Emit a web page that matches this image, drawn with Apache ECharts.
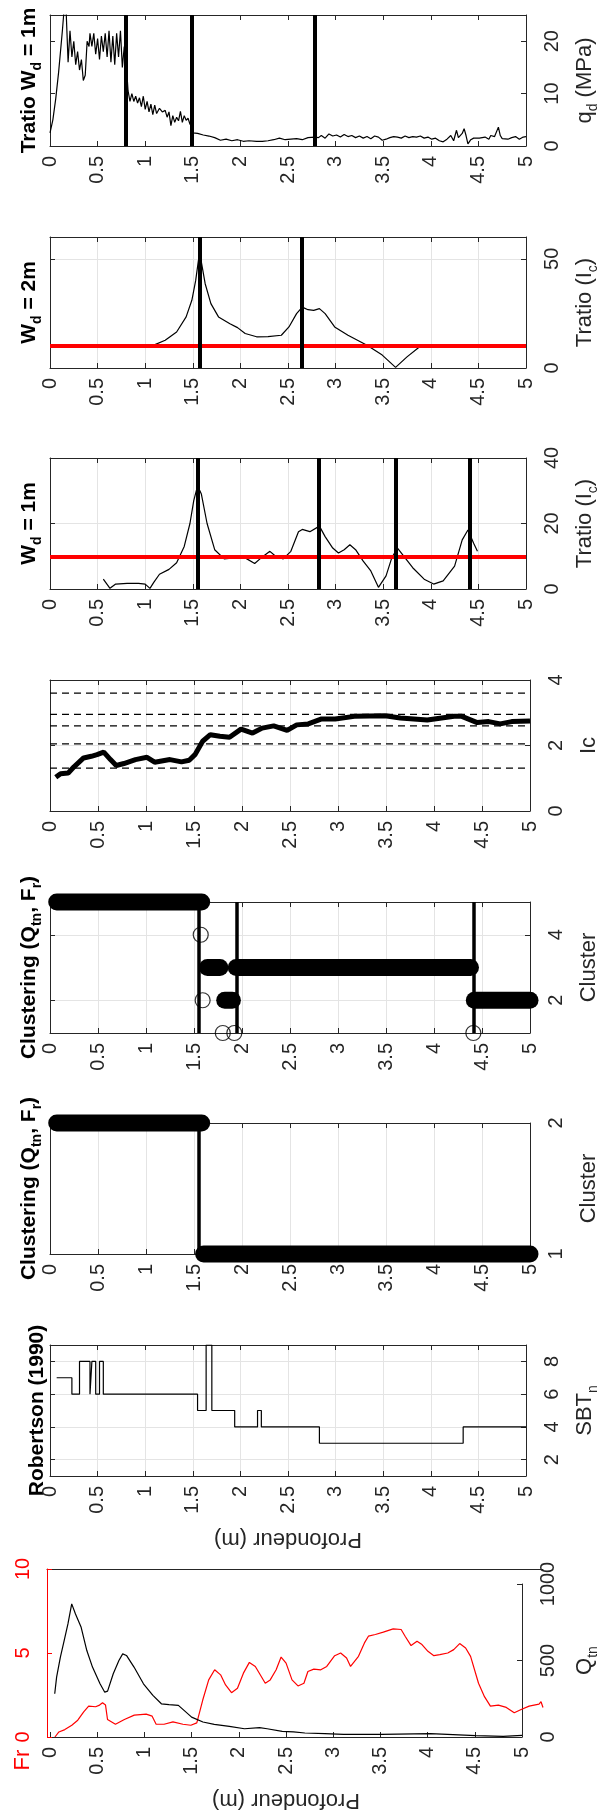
<!DOCTYPE html>
<html>
<head>
<meta charset="utf-8">
<script src="https://cdn.jsdelivr.net/npm/echarts@6/dist/echarts.min.js"></script>
<style>
  html, body { margin: 0; padding: 0; background: #fff; }
  #chart { width: 608px; height: 1816px; }
</style>
</head>
<body>
<div id="chart"></div>
<script>
// ---- data: [depth (m), value] ----
const qd = [[0.00,2.5],[0.03,5],[0.06,9],[0.09,14],[0.11,18],[0.13,22],[0.15,26.5],[0.17,25.5],[0.19,16],[0.21,22],
  [0.23,17],[0.25,20],[0.27,15.5],[0.29,18],[0.31,14.5],[0.33,16.5],[0.35,12.5],[0.37,13.5],[0.39,20],[0.41,19],
  [0.42,21.5],[0.44,19],[0.46,21.5],[0.48,17.5],[0.50,20.5],[0.52,16.5],[0.54,21],[0.56,18],[0.58,21.5],[0.60,17],
  [0.62,22],[0.64,16],[0.66,21],[0.68,15.5],[0.70,21.5],[0.72,17],[0.74,22],[0.76,15],[0.78,19],[0.80,16],
  [0.82,10.5],[0.84,8.5],[0.86,10],[0.88,8.5],[0.90,9.5],[0.92,8.2],[0.94,9.2],[0.96,7.5],[0.98,9.5],[1.00,7],
  [1.02,8.5],[1.04,6.5],[1.06,8],[1.08,6],[1.10,7.8],[1.12,6.2],[1.15,7.2],[1.18,6.5],[1.21,6.8],[1.23,5.5],
  [1.25,6.5],[1.27,3.9],[1.29,5.8],[1.31,4.5],[1.33,5.5],[1.35,4.8],[1.37,6.6],[1.39,4.5],[1.41,5.8],[1.43,4.9],
  [1.45,5.3],[1.47,4.2],[1.49,3.8],[1.50,2.5],[1.55,2.4],[1.61,2.1],[1.67,1.9],[1.73,1.6],[1.79,1.1],[1.85,1.3],
  [1.91,1.0],[1.97,1.2],[2.03,0.9],[2.09,1.0],[2.17,0.9],[2.23,0.9],[2.29,1.0],[2.35,1.2],[2.41,1.5],[2.47,1.2],
  [2.53,1.3],[2.59,1.4],[2.65,1.2],[2.71,1.6],[2.78,1.7],[2.82,1.6],[2.85,2.0],[2.89,1.5],[2.93,2.3],[2.97,1.9],
  [3.01,2.1],[3.05,1.7],[3.09,2.2],[3.13,1.8],[3.17,2.0],[3.21,1.6],[3.25,1.9],[3.29,1.5],[3.33,1.8],[3.37,1.4],
  [3.41,1.9],[3.45,1.7],[3.49,1.1],[3.53,1.3],[3.57,1.6],[3.61,1.8],[3.65,1.7],[3.69,1.5],[3.73,1.9],[3.77,1.6],
  [3.81,1.8],[3.85,1.7],[3.89,1.9],[3.93,1.5],[3.97,1.7],[4.01,1.3],[4.05,1.5],[4.09,1.0],[4.13,0.8],[4.17,1.3],
  [4.21,2.0],[4.24,1.0],[4.27,3.0],[4.29,1.6],[4.31,1.4],[4.33,2.4],[4.35,3.3],[4.37,2.0],[4.39,0.4],[4.42,1.2],
  [4.45,1.5],[4.51,1.5],[4.57,1.7],[4.61,1.3],[4.63,2.0],[4.67,1.8],[4.71,3.6],[4.73,2.0],[4.75,1.4],[4.81,1.3],
  [4.85,1.6],[4.89,1.8],[4.93,1.3],[4.97,1.7],[5.00,1.8]];
const qdBreaks = [0.8, 1.49, 2.78];

const tratio2m = [[1.09,10.5],[1.21,12.7],[1.33,16.5],[1.43,23.4],[1.49,31],[1.53,40],[1.56,49.5],[1.59,48.5],
  [1.63,38.6],[1.69,29.5],[1.77,23.4],[1.89,20.3],[1.97,18.5],[2.05,15.8],[2.17,14.3],[2.29,14.4],[2.43,15],
  [2.51,18.8],[2.59,24.9],[2.65,27.9],[2.71,26.7],[2.77,26.4],[2.83,27.2],[2.89,24.9],[2.99,18.8],[3.13,15],
  [3.33,10.4],[3.49,5.9],[3.63,0.3],[3.75,5.1],[3.87,9.3],[3.89,9.6]];
const tratio2mBreaks = [1.57, 2.64];

const tratio1m = [[0.56,3],[0.63,0.2],[0.69,1.5],[0.81,1.7],[0.93,1.7],[1.00,1.5],[1.05,0.2],[1.09,2],[1.15,4.5],
  [1.25,6],[1.33,8],[1.41,13],[1.47,20],[1.51,27],[1.55,31.5],[1.59,29],[1.65,20],[1.73,12],[1.83,9.2],[1.93,9.5],
  [2.05,9.5],[2.15,7.8],[2.23,9.8],[2.31,11.5],[2.37,10],[2.45,9.2],[2.53,11.5],[2.61,17.5],[2.65,18.2],[2.73,17.5],
  [2.83,19.2],[2.89,16],[2.97,12.5],[3.03,11],[3.09,12],[3.15,13.5],[3.21,12],[3.29,8.5],[3.37,5.5],[3.45,0.5],
  [3.53,4],[3.59,9.5],[3.65,12.5],[3.73,9.5],[3.81,6.5],[3.93,3],[4.03,1.5],[4.13,2.5],[4.25,7],[4.33,15],
  [4.39,18],[4.45,14],[4.49,11.5]];
const tratio1mBreaks = [1.55, 2.82, 3.63, 4.41];
const tratioThreshold = 10;

const ic = [[0.06,1.03],[0.11,1.14],[0.19,1.16],[0.25,1.35],[0.35,1.62],[0.43,1.67],[0.49,1.72],[0.56,1.80],
  [0.63,1.57],[0.69,1.39],[0.77,1.45],[0.89,1.57],[1.01,1.64],[1.09,1.49],[1.25,1.57],[1.37,1.50],[1.45,1.55],
  [1.51,1.72],[1.59,2.13],[1.67,2.33],[1.77,2.28],[1.87,2.25],[1.99,2.50],[2.11,2.38],[2.21,2.53],[2.33,2.60],
  [2.47,2.46],[2.57,2.63],[2.69,2.66],[2.83,2.81],[2.97,2.81],[3.17,2.89],[3.49,2.91],[3.65,2.84],[3.93,2.78],
  [4.21,2.89],[4.29,2.89],[4.45,2.70],[4.57,2.73],[4.69,2.66],[4.81,2.73],[5.00,2.75]];
const icBounds = [1.31, 2.05, 2.60, 2.95, 3.60];

// cluster runs: [from depth, to depth, cluster]
const cluster5Runs = [[0.07,1.58,5],[1.64,1.77,3],[1.82,1.90,2],[1.94,4.38,3],[4.42,5.0,2]];
const cluster5Single = [[1.57,4],[1.59,2],[1.80,1],[1.92,1],[4.41,1]];
const cluster5Breaks = [1.55, 1.95, 4.41];
const cluster2Runs = [[0.07,1.58,2],[1.60,5.0,1]];
const cluster2Breaks = [1.55];

// SBTn: value holds from each depth until the next one
const sbtn = [[0.07,7],[0.23,6],[0.31,8],[0.42,6],[0.44,8],[0.48,6],[0.52,8],[0.56,6],[1.55,5],[1.64,9],
  [1.70,5],[1.94,4],[2.18,5],[2.22,4],[2.83,3],[4.34,4],[5.0,4]];

const fr = [[0.08,0],[0.12,0.3],[0.18,0.44],[0.25,0.7],[0.31,1.0],[0.37,1.5],[0.42,1.84],[0.49,1.8],[0.53,1.9],
  [0.56,2.04],[0.59,1.9],[0.61,1.04],[0.69,0.76],[0.78,1.04],[0.88,1.3],[1.00,1.36],[1.06,1.24],[1.10,0.76],
  [1.18,0.76],[1.27,0.9],[1.37,0.76],[1.45,0.7],[1.51,0.84],[1.57,2.2],[1.63,3.4],[1.69,4.0],[1.75,3.7],[1.80,3.1],
  [1.86,2.64],[1.92,2.9],[1.98,3.8],[2.04,4.44],[2.10,4.2],[2.16,3.6],[2.20,3.2],[2.25,3.4],[2.31,4.0],[2.36,4.76],
  [2.41,4.4],[2.47,3.4],[2.53,3.04],[2.59,3.2],[2.63,3.9],[2.69,4.04],[2.76,4.0],[2.82,4.2],[2.90,4.84],[2.96,5.0],
  [3.02,4.7],[3.06,4.2],[3.14,4.8],[3.20,5.6],[3.24,6.0],[3.31,6.1],[3.39,6.24],[3.49,6.44],[3.57,6.4],[3.61,6.0],
  [3.67,5.44],[3.73,5.7],[3.78,5.5],[3.84,5.1],[3.90,4.84],[3.96,4.9],[4.04,5.0],[4.10,5.2],[4.16,5.56],[4.22,5.3],
  [4.27,4.8],[4.35,3.2],[4.41,2.4],[4.47,1.84],[4.55,1.9],[4.63,1.76],[4.71,1.44],[4.78,1.64],[4.86,1.84],
  [4.96,1.96],[4.98,2.1],[5.00,1.76]];
const qtn = [[0.05,283],[0.07,391],[0.11,522],[0.15,630],[0.19,739],[0.23,870],[0.27,804],[0.33,717],[0.39,565],
  [0.45,457],[0.53,348],[0.58,293],[0.61,300],[0.67,413],[0.73,500],[0.77,543],[0.81,533],[0.89,457],[0.99,348],
  [1.09,272],[1.18,217],[1.26,211],[1.36,207],[1.42,174],[1.50,130],[1.62,98],[1.74,83],[1.90,70],[2.06,54],
  [2.22,61],[2.30,54],[2.46,37],[2.58,33],[2.70,26],[2.91,22],[3.11,17],[3.51,17],[4.03,22],[4.51,9],[4.80,4],[5.00,11]];

// ---- layout / styling ----
const FONT = '"Liberation Sans", Arial, sans-serif';
const AXC = '#262626';
const GRIDC = '#e4e4e4';
const RED = '#ff0000';
const PANEL_LEFT = 50, PANEL_W = 484, PANEL_H = 131;
const plain = v => String(v);

const option = {
  animation: false,
  backgroundColor: '#fff',
  textStyle: { fontFamily: FONT },
  grid: [], xAxis: [], yAxis: [], series: [], graphic: []
};

const subRich = (size, bold) => ({
  a: { fontSize: size, lineHeight: 30, fontWeight: bold ? 'bold' : 'normal', color: bold ? '#000' : AXC, fontFamily: FONT },
  s: { fontSize: Math.round(size * 0.65), lineHeight: 14, verticalAlign: 'bottom', fontWeight: bold ? 'bold' : 'normal', color: bold ? '#000' : AXC, fontFamily: FONT }
});

function addPanel(cfg) {
  const g = option.grid.length;
  option.grid.push({ left: cfg.left || PANEL_LEFT, top: cfg.top, width: cfg.width || PANEL_W, height: cfg.height || PANEL_H });
  const line = { show: true, onZero: false, lineStyle: { color: AXC, width: 1 } };
  const tick = { show: true, inside: true, length: 5, lineStyle: { color: AXC } };
  const xi = option.xAxis.length;
  option.xAxis.push({
    gridIndex: g, type: 'value', position: 'bottom', min: 0, max: 5, interval: 0.5,
    axisLine: line, axisTick: tick,
    axisLabel: { rotate: 90, margin: 10, fontSize: 20, color: AXC, formatter: plain },
    splitLine: { show: !!cfg.gridLines, lineStyle: { color: GRIDC } },
    name: cfg.xName || '', nameLocation: 'middle', nameRotate: 180, nameGap: 52,
    nameTextStyle: { fontSize: 22, color: AXC }
  });
  option.xAxis.push({
    gridIndex: g, type: 'value', position: 'top', min: 0, max: 5, interval: 0.5,
    axisLine: line, axisTick: tick, axisLabel: { show: false }, splitLine: { show: false }
  });
  const yi = option.yAxis.length;
  option.yAxis.push({
    gridIndex: g, type: 'value', position: 'right', min: cfg.ymin, max: cfg.ymax, interval: cfg.yint,
    axisLine: line, axisTick: Object.assign({ customValues: cfg.yTicks }, tick),
    axisLabel: { rotate: 90, margin: 16, fontSize: 20, color: AXC, showMaxLabel: cfg.showMax, customValues: cfg.yTicks, formatter: plain },
    splitLine: { show: !!cfg.gridLines, lineStyle: { color: GRIDC } },
    name: cfg.yName, nameLocation: 'middle', nameRotate: 90, nameGap: 44,
    nameTextStyle: { fontSize: 22, color: AXC, rich: subRich(22, false) }
  });
  option.yAxis.push({
    gridIndex: g, type: 'value', position: 'left', min: cfg.ymin, max: cfg.ymax, interval: cfg.yint,
    axisLine: line, axisTick: Object.assign({ customValues: cfg.yTicks }, tick),
    axisLabel: { show: false }, splitLine: { show: false }
  });
  if (cfg.title) {
    option.graphic.push({
      type: 'text', x: cfg.titleX || 29, y: cfg.top + PANEL_H / 2, rotation: Math.PI / 2,
      style: { text: cfg.title, rich: subRich(21, true), align: 'center', verticalAlign: 'middle', font: 'bold 21px ' + FONT, fill: '#000' }
    });
  }
  return { x: xi, y: yi };
}

const thin = { color: '#000', width: 1.2 };
function vLines(list, width) {
  return list.map(v => ({ xAxis: v, lineStyle: { color: '#000', width: width, type: 'solid' } }));
}
function markLines(data) {
  return { silent: true, symbol: ['none', 'none'], label: { show: false }, animation: false, data: data };
}

// panel 1 : q_d
const p1 = addPanel({ top: 15, ymin: 0, ymax: 25, yint: 10, showMax: false, yName: '{a|q}{s|d}{a| (MPa)}', title: '{a|Tratio W}{s|d}{a| = 1m}' });
option.series.push({ type: 'line', xAxisIndex: p1.x, yAxisIndex: p1.y, data: qd, showSymbol: false, lineStyle: thin,
  markLine: markLines(vLines(qdBreaks, 4)) });

// panel 2 : Tratio Wd = 2m
const p2 = addPanel({ top: 237, ymin: 0, ymax: 60, yint: 50, showMax: false, gridLines: true, yName: '{a|Tratio (I}{s|c}{a|)}', title: '{a|W}{s|d}{a| = 2m}' });
option.series.push({ type: 'line', xAxisIndex: p2.x, yAxisIndex: p2.y, data: tratio2m, showSymbol: false, lineStyle: thin,
  markLine: markLines([{ yAxis: tratioThreshold, lineStyle: { color: RED, width: 4, type: 'solid' } }].concat(vLines(tratio2mBreaks, 4))) });

// panel 3 : Tratio Wd = 1m
const p3 = addPanel({ top: 458, ymin: 0, ymax: 40, yint: 20, gridLines: true, yName: '{a|Tratio (I}{s|c}{a|)}', title: '{a|W}{s|d}{a| = 1m}' });
option.series.push({ type: 'line', xAxisIndex: p3.x, yAxisIndex: p3.y, data: tratio1m, showSymbol: false, lineStyle: thin,
  markLine: markLines([{ yAxis: tratioThreshold, lineStyle: { color: RED, width: 4, type: 'solid' } }].concat(vLines(tratio1mBreaks, 4))) });

// panel 4 : Ic
const p4 = addPanel({ top: 680, ymin: 0, ymax: 4, yint: 2, gridLines: true, yName: '{a|Ic}' });
icBounds.forEach(b => option.series.push({ type: 'line', xAxisIndex: p4.x, yAxisIndex: p4.y, data: [[0, b], [5, b]], showSymbol: false, z: 2,
  lineStyle: { color: '#000', width: 1.2, type: [7, 5] } }));
option.series.push({ type: 'line', xAxisIndex: p4.x, yAxisIndex: p4.y, data: ic, showSymbol: false, z: 3, lineStyle: { color: '#000', width: 5 } });

// panel 5 : clustering (5 clusters)
const clusterTitle = '{a|Clustering (Q}{s|tn}{a|, F}{s|r}{a|)}';
const p5 = addPanel({ top: 902, ymin: 1, ymax: 5, yint: 1, yTicks: [2, 4], gridLines: true, yName: '{a|Cluster}', title: clusterTitle });
cluster5Runs.forEach(r => option.series.push({ type: 'line', xAxisIndex: p5.x, yAxisIndex: p5.y, data: [[r[0], r[2]], [r[1], r[2]]],
  showSymbol: false, clip: false, lineStyle: { color: '#000', width: 17, cap: 'round' } }));
option.series.push({ type: 'scatter', xAxisIndex: p5.x, yAxisIndex: p5.y, data: cluster5Single, symbol: 'circle', symbolSize: 15, clip: false,
  itemStyle: { color: 'rgba(0,0,0,0)', borderColor: '#000', borderWidth: 1.2 },
  markLine: markLines(vLines(cluster5Breaks, 3.5)) });

// panel 6 : clustering (2 clusters)
const p6 = addPanel({ top: 1123, ymin: 1, ymax: 2, yint: 1, gridLines: true, yName: '{a|Cluster}', title: clusterTitle });
cluster2Runs.forEach((r, i) => option.series.push({ type: 'line', xAxisIndex: p6.x, yAxisIndex: p6.y, data: [[r[0], r[2]], [r[1], r[2]]],
  showSymbol: false, clip: false, lineStyle: { color: '#000', width: 17, cap: 'round' },
  markLine: i === 0 ? markLines(vLines(cluster2Breaks, 3.5)) : undefined }));

// panel 7 : Robertson SBTn
const p7 = addPanel({ top: 1345, ymin: 1, ymax: 9, yint: 1, yTicks: [2, 4, 6, 8], gridLines: true, yName: '{a|SBT}{s|n}',
  title: '{a|Robertson (1990)}', titleX: 37, xName: 'Profondeur (m)' });
option.series.push({ type: 'line', xAxisIndex: p7.x, yAxisIndex: p7.y, data: sbtn, step: 'end', showSymbol: false, lineStyle: thin });

// panel 8 : Fr (left, red) and Qtn (right)
const gFr = option.grid.length;
option.grid.push({ left: 47, top: 1569, width: 496, height: 168 });
const xFr = option.xAxis.length;
option.xAxis.push({ gridIndex: gFr, type: 'value', position: 'top', min: 0, max: 5,
  axisLine: { show: true, onZero: false, lineStyle: { color: AXC } }, axisTick: { show: false }, axisLabel: { show: false }, splitLine: { show: false } });
const yFr = option.yAxis.length;
option.yAxis.push({ gridIndex: gFr, type: 'value', position: 'left', min: 0, max: 10, interval: 5,
  axisLine: { show: true, onZero: false, lineStyle: { color: RED } },
  axisTick: { show: true, inside: true, length: 5, lineStyle: { color: RED } },
  axisLabel: { rotate: 90, margin: 14, fontSize: 20, color: RED, formatter: plain }, splitLine: { show: false } });
const gQ = option.grid.length;
option.grid.push({ left: 50, top: 1584, width: 483, height: 153 });
const xQ = option.xAxis.length;
option.xAxis.push({ gridIndex: gQ, type: 'value', position: 'bottom', min: 0, max: 5, interval: 0.5,
  axisLine: { show: true, onZero: false, lineStyle: { color: AXC } },
  axisTick: { show: true, inside: true, length: 5, lineStyle: { color: AXC } },
  axisLabel: { rotate: 90, margin: 10, fontSize: 20, color: AXC, formatter: plain }, splitLine: { show: false },
  name: 'Profondeur (m)', nameLocation: 'middle', nameRotate: 180, nameGap: 52, nameTextStyle: { fontSize: 22, color: AXC } });
const yQ = option.yAxis.length;
option.yAxis.push({ gridIndex: gQ, type: 'value', position: 'right', min: 0, max: 1000, interval: 500,
  axisLine: { show: true, onZero: false, lineStyle: { color: AXC } },
  axisTick: { show: true, inside: true, length: 5, lineStyle: { color: AXC } },
  axisLabel: { rotate: 90, margin: 16, fontSize: 20, color: AXC, formatter: plain }, splitLine: { show: false },
  name: '{a|Q}{s|tn}', nameLocation: 'middle', nameRotate: 90, nameGap: 48, nameTextStyle: { fontSize: 22, color: AXC, rich: subRich(22, false) } });
option.series.push({ type: 'line', xAxisIndex: xFr, yAxisIndex: yFr, data: fr, showSymbol: false, lineStyle: { color: RED, width: 1.2 } });
option.series.push({ type: 'line', xAxisIndex: xQ, yAxisIndex: yQ, data: qtn, showSymbol: false, lineStyle: thin });
option.graphic.push({ type: 'text', x: 23, y: 1760, rotation: Math.PI / 2,
  style: { text: 'Fr', align: 'center', verticalAlign: 'middle', font: '22px ' + FONT, fill: RED } });

const chart = echarts.init(document.getElementById('chart'), null, { renderer: 'canvas' });
chart.setOption(option);
</script>
</body>
</html>
